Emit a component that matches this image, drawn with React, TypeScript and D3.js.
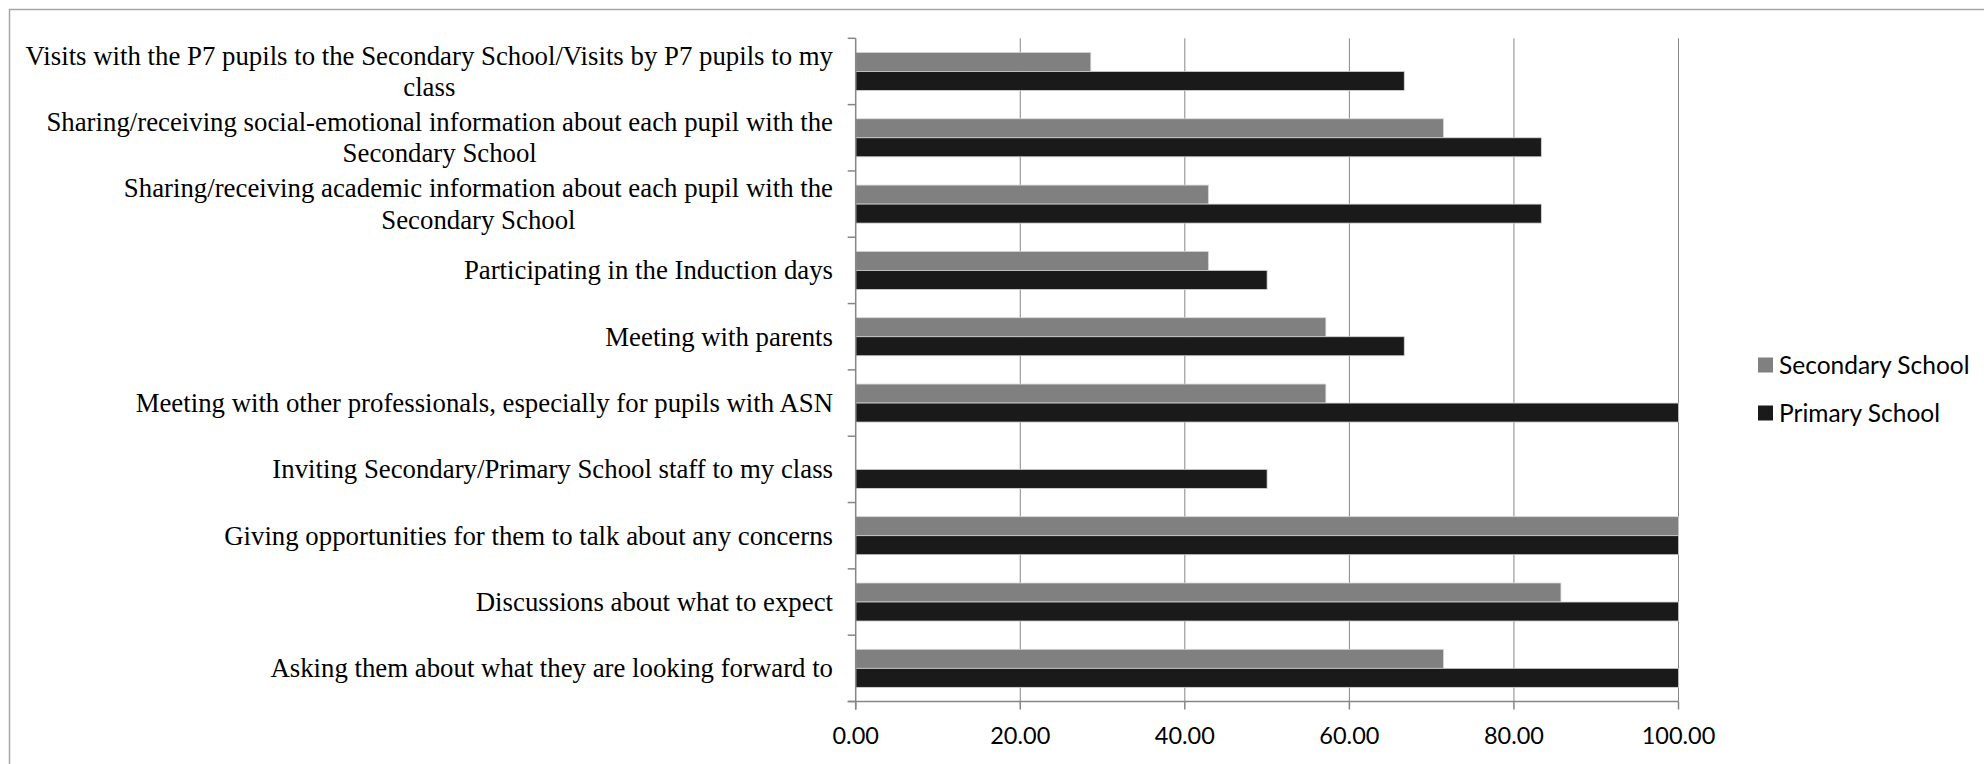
import { useEffect, useRef } from 'react';
import * as d3 from 'd3';

// categories, top to bottom as drawn; '\n' marks the wrapped lines
const categories = [
  'Visits with the P7 pupils to the Secondary School/Visits by P7 pupils to my\nclass',
  'Sharing/receiving social-emotional information about each pupil with the\nSecondary School',
  'Sharing/receiving academic information about each pupil with the\nSecondary School',
  'Participating in the Induction days',
  'Meeting with parents',
  'Meeting with other professionals, especially for pupils with ASN',
  'Inviting Secondary/Primary School staff to my class',
  'Giving opportunities for them to talk about any concerns',
  'Discussions about what to expect',
  'Asking them about what they are looking forward to',
];

const secondarySchool = [28.57, 71.43, 42.86, 42.86, 57.14, 57.14, 0, 100, 85.71, 71.43];
const primarySchool = [66.67, 83.33, 83.33, 50, 66.67, 100, 50, 100, 100, 100];

const seriesNames = ['Secondary School', 'Primary School'];
const xTicks = [0, 20, 40, 60, 80, 100];

const W = 1984;
const H = 764;

export default function App() {
  const svgRef = useRef<SVGSVGElement>(null);

  useEffect(() => {
    if (!svgRef.current) return;
    const root = d3.select(svgRef.current);
    root.selectAll('*').remove();

    const plot = { left: 855.7, right: 1678.5, top: 38.3, bottom: 701.5 };
    const colors = ['#808080', '#1a1a1a'];
    const axisColor = '#868686';

    // outer chart border (runs off the picture to the right and bottom)
    root.append('rect')
      .attr('x', 9.5).attr('y', 9.5)
      .attr('width', W).attr('height', H)
      .attr('fill', 'white')
      .attr('stroke', '#a6a6a6')
      .attr('stroke-width', 1.5);

    const x = d3.scaleLinear().domain([0, 100]).range([plot.left, plot.right]);
    const y = d3.scaleBand<string>().domain(categories).range([plot.top, plot.bottom]);
    const ySub = d3.scaleBand<string>()
      .domain(seriesNames)
      .range([0, y.bandwidth()])
      .paddingInner(0)
      .paddingOuter(0.745);

    // gridlines
    root.append('g')
      .selectAll('line')
      .data(xTicks.slice(1))
      .join('line')
      .attr('x1', d => x(d)).attr('x2', d => x(d))
      .attr('y1', plot.top).attr('y2', plot.bottom)
      .attr('stroke', axisColor)
      .attr('stroke-width', 1);

    // bars
    const series = [secondarySchool, primarySchool];
    series.forEach((vals, si) => {
      root.append('g')
        .selectAll('rect')
        .data(categories.map((c, i) => ({ c, v: vals[i] })).filter(d => d.v > 0))
        .join('rect')
        .attr('x', x(0))
        .attr('y', d => (y(d.c) ?? 0) + (ySub(seriesNames[si]) ?? 0))
        .attr('width', d => x(d.v) - x(0))
        .attr('height', ySub.bandwidth())
        .attr('fill', colors[si])
        .attr('stroke', '#d4d4d4')
        .attr('stroke-width', 0.8);
    });

    // category axis
    const catAxis = root.append('g');
    catAxis.append('line')
      .attr('x1', plot.left).attr('x2', plot.left)
      .attr('y1', plot.top).attr('y2', plot.bottom + 8)
      .attr('stroke', axisColor).attr('stroke-width', 1.5);
    const bounds = categories.map(c => y(c) ?? 0).concat([plot.bottom]);
    catAxis.selectAll('line.tick')
      .data(bounds)
      .join('line')
      .attr('class', 'tick')
      .attr('x1', plot.left - 8).attr('x2', plot.left)
      .attr('y1', d => d).attr('y2', d => d)
      .attr('stroke', axisColor).attr('stroke-width', 1.5);

    // value axis
    const valAxis = root.append('g');
    valAxis.append('line')
      .attr('x1', plot.left - 8).attr('x2', plot.right)
      .attr('y1', plot.bottom).attr('y2', plot.bottom)
      .attr('stroke', axisColor).attr('stroke-width', 1.5);
    valAxis.selectAll('line.tick')
      .data(xTicks)
      .join('line')
      .attr('class', 'tick')
      .attr('x1', d => x(d)).attr('x2', d => x(d))
      .attr('y1', plot.bottom).attr('y2', plot.bottom + 8)
      .attr('stroke', axisColor).attr('stroke-width', 1.5);
    valAxis.selectAll('text')
      .data(xTicks)
      .join('text')
      .attr('x', d => x(d))
      .attr('y', 735.7)
      .attr('dy', '0.36em')
      .attr('text-anchor', 'middle')
      .attr('font-family', 'Lato, sans-serif')
      .attr('font-size', 23.5)
      .attr('fill', '#000')
      .text(d => d3.format('.2f')(d));

    // category labels: right-aligned block, lines centred within it
    const labelRight = 833;
    const lineH = 31.6;
    categories.forEach(c => {
      const lines = c.split('\n');
      const g = root.append('g');
      const cy = (y(c) ?? 0) + y.bandwidth() / 2;
      const texts = lines.map((ln, i) =>
        g.append('text')
          .attr('y', cy + (i - (lines.length - 1) / 2) * lineH)
          .attr('dy', '0.33em')
          .attr('text-anchor', 'middle')
          .attr('font-family', '"Liberation Serif", "Times New Roman", serif')
          .attr('font-size', 26.8)
          .attr('fill', '#000')
          .text(ln)
      );
      const maxW = d3.max(texts, t => (t.node() as SVGTextElement).getComputedTextLength()) ?? 0;
      texts.forEach(t => t.attr('x', labelRight - maxW / 2));
    });

    // legend
    const legend = root.append('g')
      .selectAll('g')
      .data(seriesNames)
      .join('g')
      .attr('transform', (d, i) => `translate(1758,${365 + i * 48})`);
    legend.append('rect')
      .attr('x', 0).attr('y', -7.5)
      .attr('width', 15).attr('height', 15)
      .attr('fill', (d, i) => colors[i]);
    legend.append('text')
      .attr('x', 21)
      .attr('dy', '0.36em')
      .attr('font-family', 'Lato, sans-serif')
      .attr('font-size', 24.5)
      .attr('fill', '#000')
      .text(d => d);
  }, []);

  return (
    <svg
      ref={svgRef}
      width={W}
      height={H}
      style={{ position: 'absolute', left: 0, top: 0, background: 'white' }}
    />
  );
}
